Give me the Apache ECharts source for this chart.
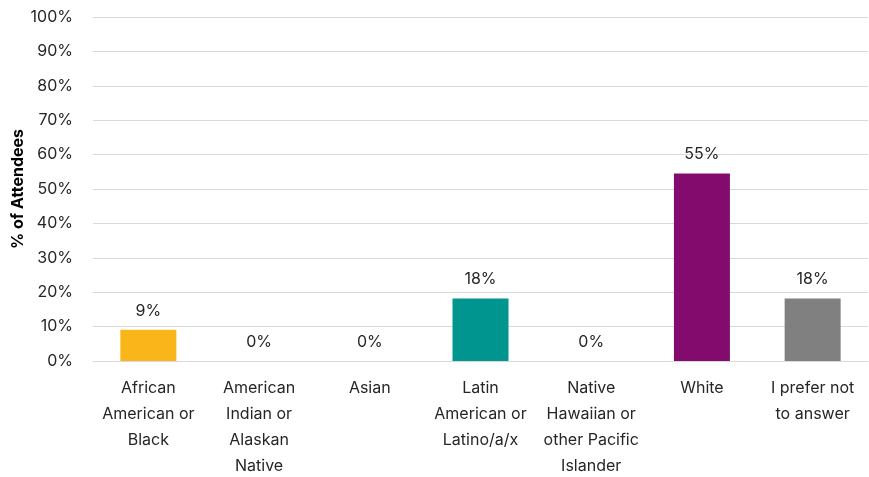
<!DOCTYPE html>
<html><head><meta charset="utf-8">
<script src="https://cdn.jsdelivr.net/npm/echarts@6/dist/echarts.min.js"></script>
<style>html,body{margin:0;padding:0;background:#fff}#c{width:869px;height:477px}</style>
</head><body><div id="c"></div>
<script>
const categories = ["African\nAmerican or\nBlack","American\nIndian or\nAlaskan\nNative","Asian","Latin\nAmerican or\nLatino/a/x","Native\nHawaiian or\nother Pacific\nIslander","White","I prefer not\nto answer"];
const values = [9.1, 0, 0, 18.2, 0, 54.5, 18.2];
const colors = ["#F9B51A","#F9B51A","#F9B51A","#00958F","#00958F","#830B6E","#808080"];
const yTicks = [0,10,20,30,40,50,60,70,80,90,100];
const font = "Inter, 'Noto Sans', sans-serif";
const chart = echarts.init(document.getElementById('c'), null, {renderer:'canvas'});
chart.setOption({
  animation:false,
  grid:{left:93,right:1,top:17,bottom:116,containLabel:false,outerBoundsMode:'none'},
  xAxis:{type:'category',data:categories,
    axisLine:{lineStyle:{color:'#d9d9d9',width:1}},axisTick:{show:false},
    axisLabel:{color:'#262626',fontSize:16,fontFamily:font,lineHeight:26,margin:14,interval:0}},
  yAxis:{type:'value',min:0,max:100,interval:10,
    name:'% of Attendees',nameLocation:'middle',nameGap:67,nameMoveOverlap:false,
    nameTextStyle:{color:'#000',fontSize:16,fontWeight:'bold',fontFamily:font},
    axisLabel:{formatter:v=>v+'%',color:'#262626',fontSize:16,fontFamily:font,margin:20},
    splitLine:{lineStyle:{color:'#d9d9d9',width:1}},axisLine:{show:false},axisTick:{show:false}},
  series:[{type:'bar',barWidth:56,
    data:values.map((v,i)=>({value:v,itemStyle:{color:colors[i]}})),
    label:{show:true,position:'top',distance:11,formatter:p=>Math.round(p.value)+'%',
      color:'#262626',fontSize:16,fontFamily:font}}]
});
</script></body></html>
